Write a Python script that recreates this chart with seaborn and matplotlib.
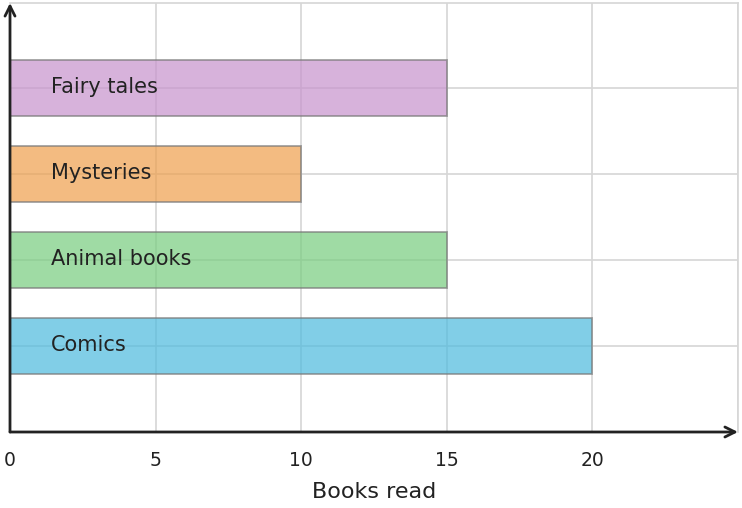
import matplotlib
matplotlib.use("Agg")
import matplotlib.pyplot as plt
import seaborn as sns
import pandas as pd

# data (top to bottom)
categories = ["Fairy tales", "Mysteries", "Animal books", "Comics"]
books_read = [15, 10, 15, 20]
bar_colors = ["#c792cd", "#ee9f4c", "#77cd7e", "#4cbade"]
x_ticks = [0, 5, 10, 15, 20]

df = pd.DataFrame({"category": categories, "books": books_read})

sns.set_style("white")
plt.rcParams["font.family"] = ["DejaVu Sans"]

fig = plt.figure(figsize=(7.42, 5.08), dpi=100)
ax = fig.add_axes([10 / 742, 76 / 508, 728 / 742, 429 / 508])
ax.set_axisbelow(True)

sns.barplot(data=df, x="books", y="category", hue="category",
            palette=bar_colors, order=categories, hue_order=categories,
            orient="h", width=0.65, alpha=0.7, saturation=1,
            edgecolor="#7a7a7a", linewidth=1.3, legend=False, ax=ax)

# labels inside the bars
for i, cat in enumerate(categories):
    ax.text(1.4, i - 0.01, cat, va="center", ha="left", fontsize=15, color="#222222")

ax.set_xlim(0, 25)
ax.set_ylim(4.0, -0.99)
ax.set_xticks(x_ticks)
ax.set_xticks([25], minor=True)
ax.set_yticks(range(len(categories)))
ax.set_yticklabels([])
ax.grid(True, which="both", color="#d6d6d6", linewidth=1.2)
ax.tick_params(axis="x", direction="in", length=6, width=1.8, color="#222222",
               labelsize=13.5, pad=14, labelcolor="#222222")
ax.tick_params(axis="x", which="minor", length=0)
ax.tick_params(axis="y", direction="in", length=4, width=1.2, color="#444444")
ax.set_xlabel("Books read", fontsize=16, color="#222222", labelpad=8)
ax.set_ylabel("")

for side in ["top", "right"]:
    ax.spines[side].set_color("#d6d6d6")
    ax.spines[side].set_linewidth(1.2)
for side in ["left", "bottom"]:
    ax.spines[side].set_visible(False)

# arrow axes
arrow = dict(arrowstyle="->", color="#222222", lw=2, mutation_scale=18,
             shrinkA=0, shrinkB=0)
ax.annotate("", xy=(0, 1.0), xytext=(0, 0), xycoords="axes fraction",
            arrowprops=arrow, annotation_clip=False)
ax.annotate("", xy=(1.0, 0), xytext=(0, 0), xycoords="axes fraction",
            arrowprops=arrow, annotation_clip=False)

fig.savefig("out.png", dpi=100)
